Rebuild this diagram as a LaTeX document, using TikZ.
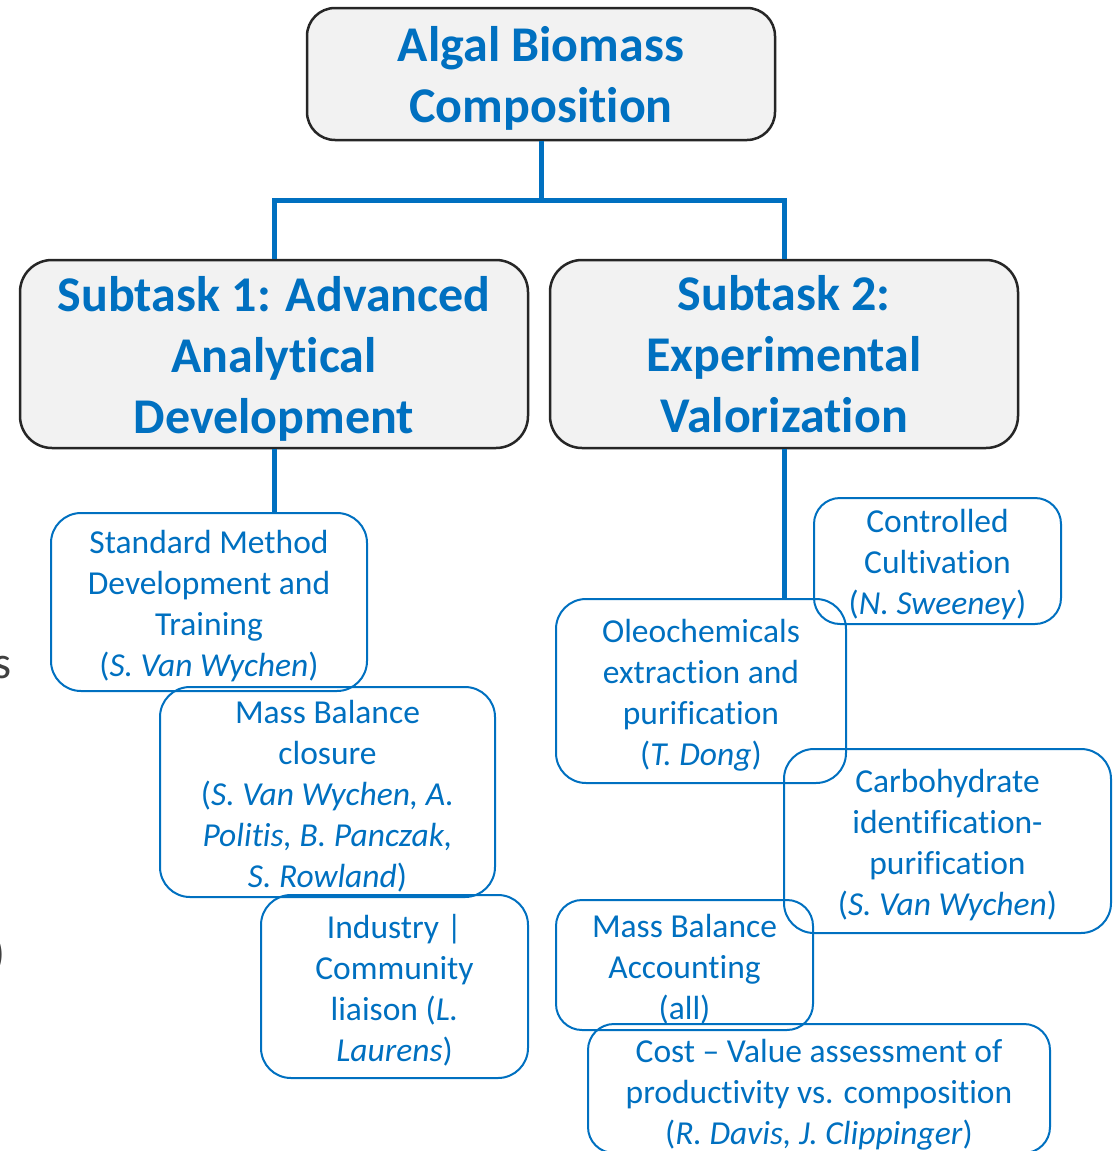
\documentclass[tikz,border=0pt]{standalone}
\usepackage{fontspec}
\setmainfont{Carlito}[Ligatures={TeX,NoCommon}]
\usetikzlibrary{calc}
\definecolor{blu}{HTML}{0070C0}
\definecolor{boxgray}{HTML}{F2F2F2}
\definecolor{edgegray}{HTML}{262626}
\definecolor{fraggray}{HTML}{404040}
\newcommand\lineup[1]{\rule{0pt}{\dimexpr\fontcharht\font`l+#1\relax}}
\tikzset{
  bigbox/.style={draw=edgegray, line width=2.5pt, fill=boxgray, rounded corners=28pt,
    align=center, text=blu, font=\fontsize{50}{61}\selectfont\bfseries, inner sep=0pt},
  smallbox/.style={draw=blu, line width=2pt, rounded corners=30pt,
    align=center, text=blu, font=\fontsize{33.5}{41}\selectfont, inner sep=0pt},
  conn/.style={draw=blu, line width=5pt},
  frag/.style={text=fraggray, font=\fontsize{46}{50}\selectfont, inner sep=0pt, anchor=east},
}
\begin{document}
\begin{tikzpicture}[x=1pt,y=-1pt]
\useasboundingbox (0,0) rectangle (1117,1151);

% fragments at the left edge
\node[frag] (fs) at (12,668) {s};
\node[frag] (fp) at (6,955) {)};

% main boxes
\node[bigbox, minimum width=468pt, minimum height=132pt] (top) at (541,74)
  {\lineup{9pt}Algal Biomass\\Composition};
\node[bigbox, minimum width=508pt, minimum height=188pt, rounded corners=32pt] (s1) at (274,354)
  {\lineup{9pt}Subtask 1: Advanced\\Analytical\\Development};
\node[bigbox, minimum width=468pt, minimum height=188pt, rounded corners=32pt] (s2) at (784,354)
  {\lineup{1pt}Subtask 2:\\Experimental\\Valorization};

% small boxes, left
\node[smallbox, minimum width=316pt, minimum height=178pt] (sm) at (209,602)
  {\lineup{8pt}Standard Method\\Development and\\Training\\(\textit{S. Van Wychen})};
\node[smallbox, minimum width=335pt, minimum height=210pt] (mbc) at (327.5,792)
  {\lineup{8pt}Mass Balance\\closure\\(\textit{S. Van Wychen, A.}\\\textit{Politis, B. Panczak,}\\\textit{S. Rowland})};
\node[smallbox, minimum width=267pt, minimum height=183pt] (ind) at (394.5,986.5)
  {\lineup{8pt}Industry |\\Community\\liaison (\textit{L.}\\\textit{Laurens})};

% small boxes, right
\node[smallbox, minimum width=247pt, minimum height=126pt, rounded corners=26pt] (cc) at (937.5,561)
  {\lineup{8pt}Controlled\\Cultivation\\(\textit{N. Sweeney})};
\node[smallbox, minimum width=290pt, minimum height=184pt] (ole) at (701,691)
  {\lineup{8pt}Oleochemicals\\extraction and\\purification\\(\textit{T. Dong})};
\node[smallbox, minimum width=327pt, minimum height=184pt] (carb) at (947.5,841)
  {\lineup{8pt}Carbohydrate\\identification-\\purification\\(\textit{S. Van Wychen})};
\node[smallbox, minimum width=257pt, minimum height=130pt, rounded corners=26pt] (mba) at (684.5,965)
  {\lineup{8pt}Mass Balance\\Accounting\\(all)};
\node[smallbox, minimum width=462pt, minimum height=129pt, rounded corners=26pt] (cost) at (819,1088.5)
  {\lineup{12pt}Cost – Value assessment of\\productivity vs. composition\\(\textit{R. Davis, J. Clippinger})};

% connectors
\coordinate (j) at (541,200);
\draw[conn] (top.south) -- (j);
\draw[conn] (j) -| (s1.north);
\draw[conn] (j) -| (s2.north);
\draw[conn] (s1.south) -- (s1.south |- sm.north);
\draw[conn] (s2.south) -- (s2.south |- ole.north);
\end{tikzpicture}
\end{document}
